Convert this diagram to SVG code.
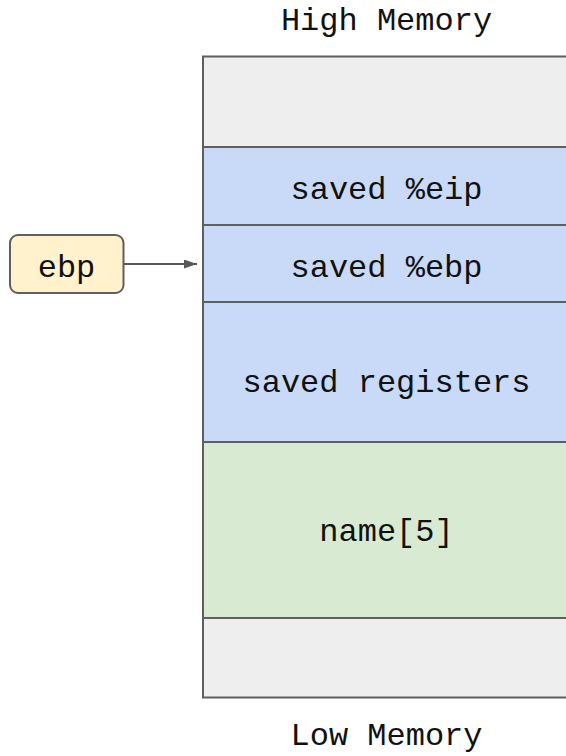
<svg xmlns="http://www.w3.org/2000/svg" width="566" height="756" viewBox="0 0 566 756">
<defs>
<style>
.cell{stroke:#5f5f5f;stroke-width:2}
.gray{fill:#eeeeee}
.blue{fill:#c9daf8}
.green{fill:#d9ead3}
.t{font-family:"Liberation Mono","Courier New",monospace;font-size:32px;fill:#111;text-anchor:middle}
</style>
<marker id="ah" viewBox="0 0 10 10" refX="10" refY="5" markerWidth="13" markerHeight="9" markerUnits="userSpaceOnUse" orient="auto" preserveAspectRatio="none">
<path d="M0,0 L10,5 L0,10 z" fill="#595959"/>
</marker>
</defs>
<rect width="566" height="756" fill="#fff"/>
<text class="t" x="386.5" y="30">High Memory</text>
<text class="t" x="386.5" y="745">Low Memory</text>
<g id="top-empty"><rect class="cell gray" x="203" y="56.5" width="370" height="90.5"/></g>
<g id="saved-eip"><rect class="cell blue" x="203" y="147" width="370" height="78"/><text class="t" x="386.5" y="199">saved %eip</text></g>
<g id="saved-ebp"><rect class="cell blue" x="203" y="225" width="370" height="77"/><text class="t" x="386.5" y="277">saved %ebp</text></g>
<g id="saved-registers"><rect class="cell blue" x="203" y="302" width="370" height="140"/><text class="t" x="386.5" y="392">saved registers</text></g>
<g id="name"><rect class="cell green" x="203" y="442" width="370" height="176"/><text class="t" x="386.5" y="541">name[5]</text></g>
<g id="bottom-empty"><rect class="cell gray" x="203" y="618" width="370" height="79.5"/></g>
<g id="ebp"><rect x="10" y="235" width="113.5" height="58" rx="8" fill="#fff2cc" stroke="#5f5f5f" stroke-width="2"/><text class="t" x="66.5" y="277">ebp</text></g>
<g id="connectors"><line x1="124" y1="264" x2="197" y2="264" stroke="#595959" stroke-width="2" marker-end="url(#ah)"/></g>
</svg>
